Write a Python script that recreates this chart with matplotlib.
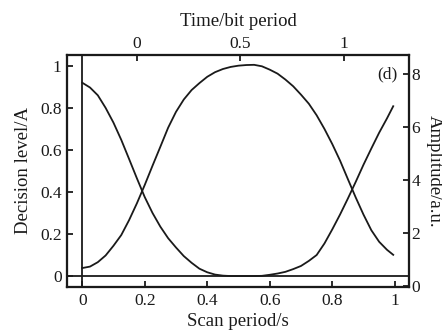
import matplotlib
matplotlib.use("Agg")
import matplotlib.pyplot as plt

plt.rcParams['font.family'] = ['Liberation Serif', 'DejaVu Serif']

scan = [0.0, 0.025, 0.05, 0.075, 0.1, 0.125, 0.15, 0.175, 0.2, 0.225,
        0.25, 0.275, 0.3, 0.325, 0.35, 0.375, 0.4, 0.425, 0.45, 0.475,
        0.5, 0.525, 0.55, 0.575, 0.6, 0.625, 0.65, 0.675, 0.7, 0.725,
        0.75, 0.775, 0.8, 0.825, 0.85, 0.875, 0.9, 0.925, 0.95, 0.975, 0.995]
curve_a = [0.92, 0.897, 0.86, 0.80, 0.73, 0.648, 0.557, 0.465, 0.376, 0.30,
           0.235, 0.18, 0.136, 0.095, 0.063, 0.035, 0.018, 0.007, 0.002, 0.0,
           0.0, 0.0, 0.0, 0.001, 0.006, 0.012, 0.02, 0.033, 0.048, 0.072,
           0.10, 0.155, 0.222, 0.293, 0.369, 0.448, 0.530, 0.607, 0.682, 0.750, 0.808]
curve_b = [0.038, 0.045, 0.066, 0.098, 0.144, 0.195, 0.266, 0.346, 0.433, 0.525,
           0.615, 0.706, 0.781, 0.84, 0.885, 0.918, 0.948, 0.97, 0.985, 0.995,
           1.001, 1.004, 1.005, 0.998, 0.982, 0.963, 0.935, 0.903, 0.863, 0.82,
           0.765, 0.70, 0.628, 0.549, 0.461, 0.374, 0.292, 0.218, 0.163, 0.125, 0.101]

bottom_ticks = [0, 0.2, 0.4, 0.6, 0.8, 1]
bottom_labels = ['0', '0.2', '0.4', '0.6', '0.8', '1']
left_ticks = [0, 0.2, 0.4, 0.6, 0.8, 1]
left_labels = ['0', '0.2', '0.4', '0.6', '0.8', '1']
right_ticks = [0, 2, 4, 6, 8]
right_labels = ['0', '2', '4', '6', '8']
top_ticks = [0, 0.5, 1]
top_labels = ['0', '0.5', '1']

ink = '#1a1a1a'
tick_fs = 12.5
label_fs = 13.5

fig = plt.figure(figsize=(4.42, 3.31), dpi=100)
ax = fig.add_axes([0.152, 0.133, 0.773, 0.701])
lw = 1.3
ax.plot(scan, curve_a, color=ink, lw=lw)
ax.plot(scan, curve_b, color=ink, lw=lw)
ax.axvline(0, color=ink, lw=lw)
ax.axhline(0, color=ink, lw=lw)
ax.set_xlim(-0.048, 1.045)
ax.set_ylim(-0.052, 1.052)
ax.set_xticks(bottom_ticks)
ax.set_xticklabels(bottom_labels)
ax.set_yticks(left_ticks)
ax.set_yticklabels(left_labels)
ax.tick_params(direction='in', length=4, width=1.3, labelsize=tick_fs, pad=4, colors=ink)
ax.set_xlabel('Scan period/s', fontsize=label_fs, labelpad=3, color=ink)
ax.set_ylabel('Decision level/A', fontsize=label_fs, labelpad=6, color=ink)

ax2 = ax.twinx()
ax2.set_ylim(-0.04, 8.72)
ax2.set_yticks(right_ticks)
ax2.set_yticklabels(right_labels)
ax2.tick_params(direction='in', length=4, width=1.3, labelsize=tick_fs, pad=2, colors=ink)
ax2.set_ylabel('Amplitude/a.u.', fontsize=label_fs, rotation=270, labelpad=16, color=ink)

ax3 = ax.twiny()
ax3.set_xlim(-0.338, 1.314)
ax3.set_xticks(top_ticks)
ax3.set_xticklabels(top_labels)
ax3.tick_params(direction='in', length=4, width=1.3, labelsize=tick_fs, pad=2, colors=ink)
ax3.set_xlabel('Time/bit period', fontsize=label_fs, labelpad=7, color=ink)

for a in (ax, ax2, ax3):
    for s in a.spines.values():
        s.set_linewidth(1.5)
        s.set_color(ink)

ax.text(0.968, 0.918, '(d)', transform=ax.transAxes, ha='right', va='center',
        fontsize=tick_fs, color=ink)

fig.savefig('out.png', dpi=100)
